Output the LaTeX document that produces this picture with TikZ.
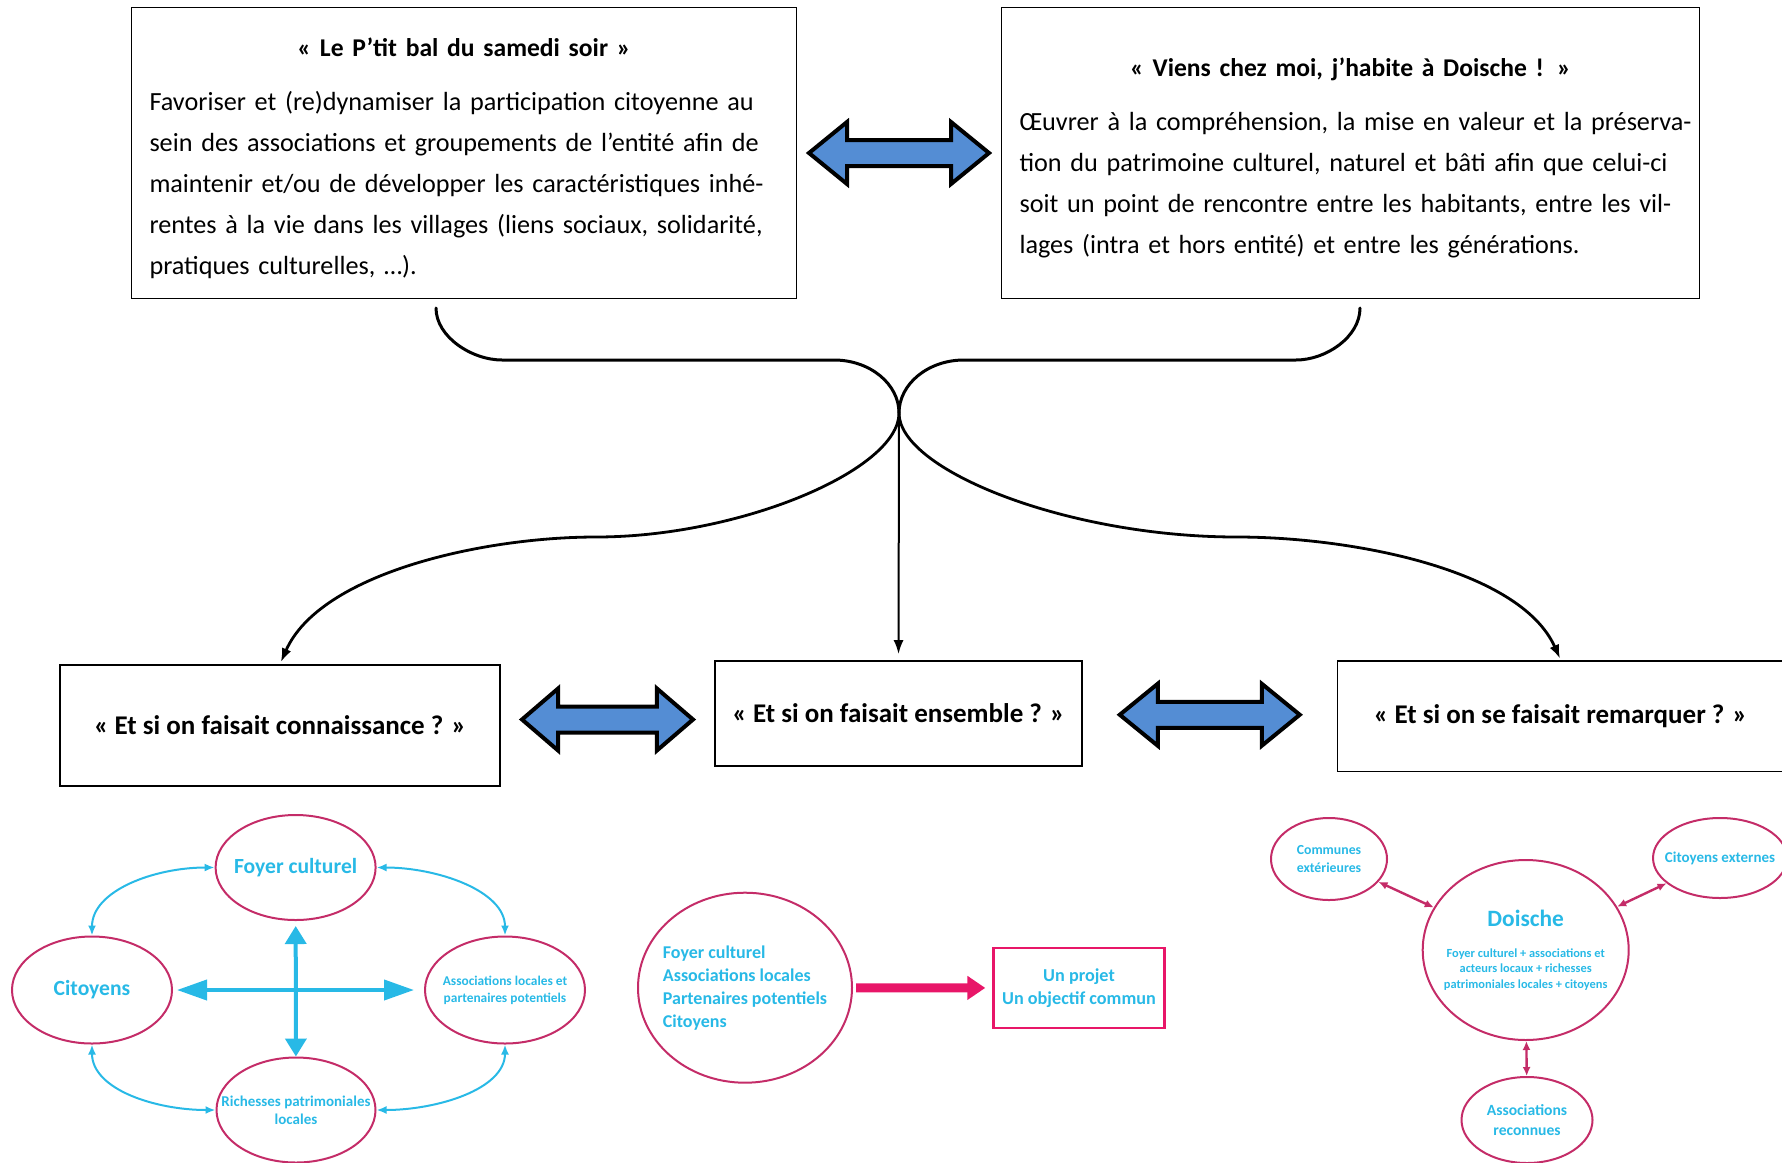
\documentclass[tikz,border=0pt]{standalone}
\usepackage{fontspec}
\setmainfont{Carlito}
\usetikzlibrary{arrows.meta,calc,shapes.geometric}
\definecolor{ArrowBlue}{RGB}{84,141,212}
\definecolor{TextCyan}{RGB}{40,185,230}
\definecolor{RingClr}{RGB}{196,44,104}
\definecolor{PinkClr}{RGB}{232,22,104}
\newcommand\boxtitle[1]{{\centering\bfseries\fontsize{12.8}{20.5}\selectfont #1\par}\vspace{6.5pt}}

\tikzset{
  dblarrow/.pic={
    \draw[line width=2pt,fill=ArrowBlue,line join=miter]
      (-90,0) -- (-52,-31) -- (-52,-13) -- (52,-13) -- (52,-31) -- (90,0)
      -- (52,31) -- (52,13) -- (-52,13) -- (-52,31) -- cycle;
  }
}

\begin{document}
\begin{tikzpicture}[x=0.5pt,y=-0.5pt,
  topbox/.style={draw,line width=0.6pt,inner sep=0pt,minimum height=145.5pt},
  toptext/.style={inner sep=0pt,align=left,font=\fontsize{13.1}{20.5}\selectfont},
  midbox/.style={draw,line width=0.9pt,inner sep=0pt,font=\bfseries\fontsize{13.5}{16}\selectfont},
  ring/.style={ellipse,draw=RingClr,line width=1pt,inner xsep=-12pt,inner ysep=0pt,align=center,text=TextCyan},
  brace/.style={line width=1.5pt,line cap=round},
  flow/.style={line width=1.4pt,-{Latex[length=7pt,width=5pt]}},
  crossarrow/.style={TextCyan,line width=2pt},
  cyanlink/.style={TextCyan,line width=1pt,{Latex[length=5pt,width=4pt]}-{Latex[length=5pt,width=4pt]}},
  ringlink/.style={RingClr,line width=1.2pt,{Latex[length=4.5pt,width=4pt]}-{Latex[length=4.5pt,width=4pt]}}]

\useasboundingbox (0,0) rectangle (1782,1162);

\node[topbox,minimum width=332.5pt] (bal) at (464,153) {};
\node[toptext,text width=314.5pt] (baltext) at ([yshift=-2.5pt]bal.center) {\boxtitle{« Le P’tit bal du samedi soir »}
\mbox{Favoriser et (re)dynamiser la participation citoyenne au}\\
\mbox{sein des associations et groupements de l’entité afin de}\\
\mbox{maintenir et/ou de développer les caractéristiques inhé-}\\
\mbox{rentes à la vie dans les villages (liens sociaux, solidarité,}\\
\mbox{pratiques culturelles, …).}};
\node[topbox,minimum width=349pt] (viens) at (1350.5,153) {};
\node[toptext,text width=331pt] (vienstext) at ([yshift=-2.5pt]viens.center) {\boxtitle{« Viens chez moi, j’habite à Doische ! »}
\mbox{Œuvrer à la compréhension, la mise en valeur et la préserva-}\\
\mbox{tion du patrimoine culturel, naturel et bâti afin que celui-ci}\\
\mbox{soit un point de rencontre entre les habitants, entre les vil-}\\
\mbox{lages (intra et hors entité) et entre les générations.}};
\pic at ($(bal.east)!0.5!(viens.west)$) {dblarrow};

\node[midbox,minimum width=220pt,minimum height=60.5pt] (connaissance) at (280,725.5) {« Et si on faisait connaissance ? »};
\node[midbox,minimum width=183.5pt,minimum height=52.5pt] (ensemble) at (898.5,713.5) {« Et si on faisait ensemble ? »};
\node[midbox,minimum width=223pt,minimum height=55.4pt] (remarquer) at (1560.5,716) {« Et si on se faisait remarquer ? »};
\pic[xscale=0.95] at ($(connaissance.east)!0.5!(ensemble.west)$) {dblarrow};
\pic at ($(ensemble.east)!0.5!(remarquer.west)$) {dblarrow};

\coordinate (join) at (899,413);
\coordinate (balfoot) at (436,308);
\coordinate (viensfoot) at (1360,308);
\draw[brace] (balfoot) .. controls +(0,29) and +(-30,0) .. (502,360) -- (834,360)
  .. controls +(36,0) and +(0,-29) .. (join);
\draw[brace] (viensfoot) .. controls +(0,29) and +(30,0) .. (1296,360) -- (964,360)
  .. controls +(-36,0) and +(0,-29) .. (join);
\draw[flow,shorten >=1pt] (join) .. controls +(0,57) and +(144,0) .. (596,537)
  .. controls +(-113,0) and +(40,-91) .. (connaissance.north);
\draw[flow,shorten >=0.5pt] (join) .. controls +(0,57) and +(-170,0) .. (1237,537)
  .. controls +(113,0) and +(-40.5,-91) .. (remarquer.north);
\draw[line width=1pt,-{Latex[length=7pt,width=5pt]},shorten >=3pt] (join) -- (ensemble.north);

\node[ring,minimum width=80pt,minimum height=52.5pt,font=\bfseries\fontsize{10.8}{13}\selectfont] (foyer) at (295.6,867.5) {Foyer culturel};
\node[ring,minimum width=80pt,minimum height=53.5pt,font=\bfseries\fontsize{10.8}{13}\selectfont] (citoyens) at (92,990) {Citoyens};
\node[ring,minimum width=80pt,minimum height=53.5pt,font=\bfseries\fontsize{6.7}{8.5}\selectfont] (partenaires) at (505,990) {Associations locales et\\partenaires potentiels};
\node[ring,minimum width=79.5pt,minimum height=52.5pt,font=\bfseries\fontsize{7.5}{9.2}\selectfont] (richesses) at (296,1110) {Richesses patrimoniales\\locales};
\draw[crossarrow,{Triangle[length=9pt,width=10.5pt]}-{Triangle[length=9pt,width=10.5pt]},shorten <=2.5pt] (foyer) -- (richesses);
\draw[crossarrow,{Triangle[length=15pt,width=10pt]}-{Triangle[length=15pt,width=10pt]},shorten <=2pt,shorten >=5pt] (citoyens) -- (partenaires);
\draw[cyanlink] (citoyens.north) .. controls +(0,-45) and +(-60,0) .. (foyer.west);
\draw[cyanlink] (foyer.east) .. controls +(60,0) and +(0,-45) .. (partenaires.north);
\draw[cyanlink] (citoyens.south) .. controls +(0,45) and +(-60,0) .. (richesses.west);
\draw[cyanlink] (partenaires.south) .. controls +(0,45) and +(60,0) .. (richesses.east);

\node[ring,minimum width=107pt,minimum height=95pt,align=left,font=\bfseries\fontsize{9}{11.5}\selectfont] (acteurs) at (745,987.7) {Foyer culturel\\Associations locales\\Partenaires potentiels\\Citoyens};
\node[draw=PinkClr,line width=1.2pt,minimum width=85.5pt,minimum height=40pt,inner sep=0pt,text=TextCyan,align=center,font=\bfseries\fontsize{9.1}{11.4}\selectfont] (projet) at (1079,988) {Un projet\\Un objectif commun};
\draw[PinkClr,line width=4.5pt,-{Triangle[length=9pt,width=11.5pt]},shorten <=1.5pt,shorten >=3.5pt] (acteurs) -- (projet);

\node[ring,minimum width=103pt,minimum height=90pt,font=\bfseries\fontsize{6.2}{7.75}\selectfont] (village) at (1525.7,950) {{\fontsize{11.7}{14}\selectfont Doische}\\[7.5pt]Foyer culturel + associations et\\acteurs locaux + richesses\\patrimoniales locales + citoyens};
\node[ring,minimum width=58pt,minimum height=41pt,font=\bfseries\fontsize{6.9}{8.8}\selectfont] (communes) at (1329,859) {Communes\\extérieures};
\node[ring,minimum width=67pt,minimum height=40pt,font=\bfseries\fontsize{7.5}{9}\selectfont] (externes) at (1720,858) {Citoyens externes};
\node[ring,minimum width=65.5pt,minimum height=43pt,font=\bfseries\fontsize{7.8}{10}\selectfont] (reconnues) at (1527,1120) {Associations\\reconnues};
\draw[ringlink] (communes) -- (village);
\draw[ringlink] (externes) -- (village);
\draw[ringlink] (village) -- (reconnues);
\end{tikzpicture}
\end{document}
